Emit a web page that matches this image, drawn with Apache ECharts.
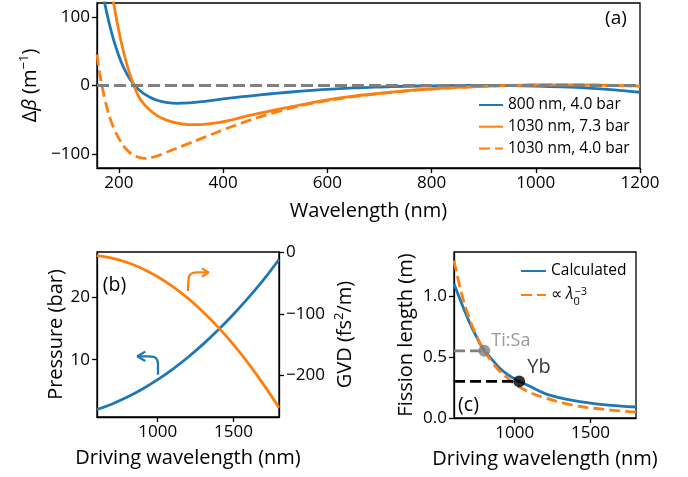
<!DOCTYPE html>
<html><head><meta charset="utf-8">
<script src="https://cdn.jsdelivr.net/npm/echarts@6/dist/echarts.min.js"></script>
<style>html,body{margin:0;padding:0;background:#fff}#c{width:688px;height:477px}</style>
</head><body><div id="c"></div>
<script>
// ---------- Panel (a): Delta beta vs wavelength ----------
const aBlueNm  = [160,166,173,180,190,200,208,216,224,232,240,250,262,275,290,312,335,360,380,400,425,450,475,500,550,600,650,700,750,800,850,900,950,1000,1050,1100,1150,1200];
const aBlueVal = [172,146,119,95,66,43,28,16,6.4,-1.2,-7.2,-13,-18,-21.8,-24.5,-26,-25.3,-23.5,-21.5,-19.6,-17.4,-15.3,-13.3,-11.5,-8.3,-5.6,-3.6,-2.2,-1.1,-0.4,0,0.1,-0.2,-0.9,-2.0,-3.7,-6.3,-9.8];
const aOr73Nm  = [183,190,200,208,216,224,232,240,250,262,275,290,310,331,350,370,390,410,450,500,550,600,650,700,750,800,850,900,950,1000,1050,1100,1150,1200];
const aOr73Val = [150,119,79,52,29,9.8,-6.2,-19,-28.5,-37.5,-44.5,-50,-54.5,-56.8,-57,-56,-54,-51,-43.5,-35.5,-28,-21,-15.5,-11.3,-7.7,-5,-2.8,-1.1,0.1,0.8,1.0,0.7,0,-1];
const aOr40Nm  = [158,163,168,173,178,185,192,200,210,220,230,240,250,262,275,290,305,320,337,355,370,385,400,434,467,500,529,560,600,650,700,750,800,850,900,950,1000,1050,1100,1150,1200];
const aOr40Val = [45,19,-2,-20,-35,-52,-65,-77,-89,-97,-102,-105,-106,-105,-102,-97.5,-93,-88.5,-83.5,-78,-73.5,-69,-64.5,-55,-46.5,-39,-33,-27.5,-22,-16.3,-11.8,-8,-5.2,-3,-1.3,-0.1,0.7,1.0,0.7,0,-1];
const aXTicks = [200,400,600,800,1000,1200];
const aYTicks = [-100,0,100];
const aNames = ['800 nm, 4.0 bar','1030 nm, 7.3 bar','1030 nm, 4.0 bar'];

// ---------- Panel (b): pressure & GVD vs driving wavelength ----------
const bNm       = [600,700,800,900,1000,1100,1200,1300,1400,1500,1600,1700,1800];
const bPressure = [2.0,2.9,4.0,5.3,6.8,8.5,10.4,12.5,14.8,17.3,20.0,22.9,26.1];
const bGVD      = [-6,-10,-17,-27,-40,-56,-75,-97,-122,-150,-181,-215,-252];
const bXTicks = [1000,1500];
const bYLTicks = [10,20];
const bYRTicks = [-200,-100,0];
// annotation arrows (data coordinates)
const bArrowBlue     = [[1002,7.6],[1002,9.3],[996,10.0],[975,10.45],[940,10.55],[866,10.55]];
const bArrowBlueHead = [[918,11.3],[866,10.55],[918,9.8]];
const bArrowOr       = [[1200,-63],[1204,-44],[1211,-38],[1231,-34],[1257,-33],[1336,-33]];
const bArrowOrHead   = [[1292,-26.5],[1336,-33],[1292,-40]];

// ---------- Panel (c): fission length ----------
const cCalcNm  = [600,650,700,750,800,850,900,950,1000,1030,1100,1200,1300,1400,1500,1600,1700,1800];
const cCalcVal = [1.10,0.94,0.79,0.66,0.55,0.48,0.41,0.36,0.32,0.30,0.26,0.20,0.165,0.14,0.122,0.108,0.098,0.09];
const cFitNm   = [600,650,700,750,800,850,900,950,1000,1100,1200,1300,1400,1500,1600,1700,1800];
const cFitVal  = [1.29,1.02,0.82,0.67,0.55,0.46,0.385,0.33,0.28,0.21,0.165,0.13,0.10,0.083,0.069,0.058,0.048];
const cTiSa = [800,0.55];
const cYb   = [1030,0.30];
const cXTicks = [1000,1500];
const cYTicks = [0,0.5,1.0];

const FONT = 'Open Sans';
const BLUE='#1f77b4', ORANGE='#ff7f0e', GRAY='#7f7f7f';
const zip = (xs, ys) => xs.map((x,i)=>[x, ys[i]]);
const minus = v => String(v).replace('-', '\u2212');

function axis(ticks, fmt, extra) {
  return Object.assign({
    type:'value',
    axisLine:{show:true, onZero:false, lineStyle:{color:'#000', width:1.3}},
    axisTick:{show:true, inside:false, length:5, customValues:ticks, lineStyle:{color:'#000', width:1.3}},
    axisLabel:{show:true, customValues:ticks, formatter:fmt, color:'#000', fontFamily:FONT, fontSize:17, margin:7},
    splitLine:{show:false},
    nameLocation:'middle',
    nameTextStyle:{color:'#000', fontFamily:FONT, fontSize:20}
  }, extra);
}
const gridBox = {show:true, borderColor:'#000', borderWidth:1.3, backgroundColor:'transparent', containLabel:false};

const lineS = (name, xi, yi, data, color, dashed, z) => ({
  type:'line', name, xAxisIndex:xi, yAxisIndex:yi, data, symbol:'none', showSymbol:false, smooth:0.4,
  lineStyle:{color, width:2.8, type: dashed ? [11,5] : 'solid'}, itemStyle:{color}, z: z||2, clip:true
});

const legendHideSymbol = {color:'transparent', borderColor:'transparent', borderWidth:0, opacity:0};

const option = {
  animation:false,
  backgroundColor:'#fff',
  grid:[
    Object.assign({left:97, top:3, width:543, height:165}, gridBox),
    Object.assign({left:97, top:252, width:182, height:165}, gridBox),
    Object.assign({left:454, top:252, width:182, height:166}, gridBox)
  ],
  xAxis:[
    axis(aXTicks, minus, {gridIndex:0, min:158, max:1200, name:'Wavelength (nm)', nameGap:33}),
    axis(bXTicks, minus, {gridIndex:1, min:600, max:1800, name:'Driving wavelength (nm)', nameGap:31}),
    axis(cXTicks, minus, {gridIndex:2, min:600, max:1800, name:'Driving wavelength (nm)', nameGap:31})
  ],
  yAxis:[
    axis(aYTicks, minus, {gridIndex:0, min:-120, max:120, nameRotate:90, nameGap:55,
      name:'{n|\u0394}{i|\u03b2}{n| (m}{s|\u22121}{n|)}',
      nameTextStyle:{color:'#000', fontFamily:FONT, fontSize:20, rich:{
        n:{fontFamily:FONT, fontSize:20, lineHeight:24, color:'#000'},
        i:{fontFamily:FONT, fontSize:20, lineHeight:24, fontStyle:'italic', color:'#000'},
        s:{fontFamily:FONT, fontSize:13, lineHeight:14, verticalAlign:'top', color:'#000'}}}}),
    axis(bYLTicks, minus, {gridIndex:1, min:0.8, max:27.3, nameRotate:90, nameGap:31, name:'Pressure (bar)'}),
    axis(bYRTicks, minus, {gridIndex:1, min:-267, max:0, position:'right', nameRotate:90, nameGap:54,
      name:'{n|GVD (fs}{s|2}{n|/m)}',
      nameTextStyle:{color:'#000', fontFamily:FONT, fontSize:20, rich:{
        n:{fontFamily:FONT, fontSize:20, lineHeight:24, color:'#000'},
        s:{fontFamily:FONT, fontSize:13, lineHeight:14, verticalAlign:'top', color:'#000'}}}}),
    axis(cYTicks, v => v.toFixed(1), {gridIndex:2, min:0, max:1.36, nameRotate:90, nameGap:38, name:'Fission length (m)'})
  ],
  legend:[
    {data:aNames, left:478, top:97, orient:'vertical', itemWidth:24, itemHeight:12, itemGap:5.7, padding:0,
     itemStyle:legendHideSymbol,
     textStyle:{fontFamily:FONT, fontSize:15.5, color:'#000', lineHeight:16}},
    {data:['Calculated','fit'], left:520, top:262, orient:'vertical', itemWidth:25, itemHeight:12, itemGap:6, padding:0,
     itemStyle:legendHideSymbol,
     formatter: n => n === 'fit' ? '{n|\u221d }{i|\u03bb}{sb|0}{sp|\u22123}' : '{n|' + n + '}',
     textStyle:{fontFamily:FONT, fontSize:15.5, color:'#000', lineHeight:18, rich:{
       n:{fontFamily:FONT, fontSize:15.5, lineHeight:18, color:'#000'},
       i:{fontFamily:FONT, fontSize:15.5, lineHeight:18, fontStyle:'italic', color:'#000'},
       sb:{fontFamily:FONT, fontSize:11, lineHeight:11, verticalAlign:'bottom', width:1, color:'#000', padding:[0,0,-3,0]},
       sp:{fontFamily:FONT, fontSize:11, lineHeight:11, verticalAlign:'top', color:'#000'}}}}
  ],
  graphic:[
    {type:'text', x:616, y:19, style:{text:'(a)', fontFamily:FONT, fontSize:19, fill:'#000', align:'center', verticalAlign:'middle'}},
    {type:'text', x:114.5, y:285, style:{text:'(b)', fontFamily:FONT, fontSize:19.5, fill:'#000', align:'center', verticalAlign:'middle'}},
    {type:'text', x:468.5, y:405, style:{text:'(c)', fontFamily:FONT, fontSize:19.5, fill:'#000', align:'center', verticalAlign:'middle'}}
  ],
  series:[
    // (a)
    {type:'line', xAxisIndex:0, yAxisIndex:0, data:[], symbol:'none', z:1,
     markLine:{silent:true, symbol:['none','none'], label:{show:false}, data:[{yAxis:0}],
       lineStyle:{color:GRAY, width:2.8, type:[12,5]}}},
    lineS(aNames[0], 0, 0, zip(aBlueNm, aBlueVal), BLUE, false, 2),
    lineS(aNames[1], 0, 0, zip(aOr73Nm, aOr73Val), ORANGE, false, 3),
    lineS(aNames[2], 0, 0, zip(aOr40Nm, aOr40Val), ORANGE, true, 4),
    // (b)
    lineS('pressure', 1, 1, zip(bNm, bPressure), BLUE, false, 2),
    lineS('gvd', 1, 2, zip(bNm, bGVD), ORANGE, false, 3),
    Object.assign(lineS('arrB', 1, 1, bArrowBlue, BLUE, false, 3), {smooth:0.5, lineStyle:{color:BLUE, width:2.3}}),
    Object.assign(lineS('arrBh', 1, 1, bArrowBlueHead, BLUE, false, 3), {smooth:false, lineStyle:{color:BLUE, width:2.3}}),
    Object.assign(lineS('arrO', 1, 2, bArrowOr, ORANGE, false, 3), {smooth:0.5, lineStyle:{color:ORANGE, width:2.3}}),
    Object.assign(lineS('arrOh', 1, 2, bArrowOrHead, ORANGE, false, 3), {smooth:false, lineStyle:{color:ORANGE, width:2.3}}),
    // (c)
    lineS('Calculated', 2, 3, zip(cCalcNm, cCalcVal), BLUE, false, 2),
    lineS('fit', 2, 3, zip(cFitNm, cFitVal), ORANGE, true, 3),
    {type:'line', xAxisIndex:2, yAxisIndex:3, data:[[600, cTiSa[1]], cTiSa], symbol:'none',
     lineStyle:{color:GRAY, width:2.8, type:[11,5]}, z:4},
    {type:'line', xAxisIndex:2, yAxisIndex:3, data:[[600, cYb[1]], cYb], symbol:'none',
     lineStyle:{color:'#000', width:2.8, type:[11,5]}, z:4},
    {type:'scatter', xAxisIndex:2, yAxisIndex:3, data:[cTiSa], symbolSize:12, itemStyle:{color:GRAY}, z:5,
     label:{show:true, formatter:'Ti:Sa', position:'right', distance:1, offset:[0,-10], color:GRAY, fontFamily:FONT, fontSize:18}},
    {type:'scatter', xAxisIndex:2, yAxisIndex:3, data:[cYb], symbolSize:12, itemStyle:{color:'#000'}, z:5,
     label:{show:true, formatter:'Yb', position:'right', distance:2, offset:[0,-14], color:'#000', fontFamily:FONT, fontSize:20}}
  ]
};
const chart = echarts.init(document.getElementById('c'), null, {renderer:'canvas'});
chart.setOption(option);
</script></body></html>
